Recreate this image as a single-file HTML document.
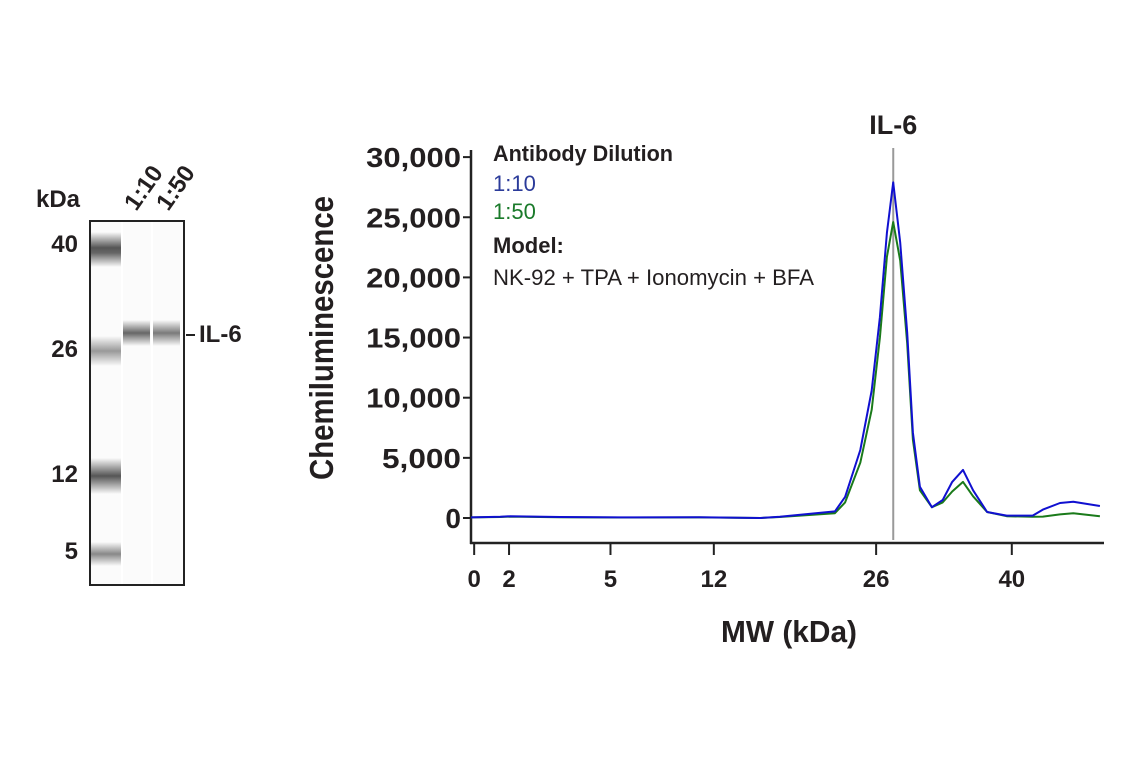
<!DOCTYPE html>
<html><head><meta charset="utf-8"><style>
body{margin:0;background:#fff;width:1141px;height:768px;overflow:hidden;font-family:"Liberation Sans Narrow","Liberation Sans",sans-serif;}
.b{position:absolute;font-weight:bold;color:#231f20}
.band{position:absolute;}
</style></head><body>
<div style="position:absolute;left:0;top:0;width:260px;height:768px">
<div class="b" style="left:36px;top:186px;font-size:24px">kDa</div>
<div class="b" style="left:142px;top:188px;font-size:24px;transform:rotate(-55deg);transform-origin:left bottom">1:10</div>
<div class="b" style="left:174px;top:188px;font-size:24px;transform:rotate(-55deg);transform-origin:left bottom">1:50</div>
<div class="b" style="left:40px;width:38px;text-align:right;top:231px;font-size:24px">40</div>
<div class="b" style="left:40px;width:38px;text-align:right;top:336px;font-size:24px">26</div>
<div class="b" style="left:40px;width:38px;text-align:right;top:461px;font-size:24px">12</div>
<div class="b" style="left:40px;width:38px;text-align:right;top:538px;font-size:24px">5</div>
<div style="position:absolute;left:89px;top:220px;width:92px;height:362px;border:2px solid #222;background:#fbfbfb;overflow:hidden">
<div class="band" style="left:0;top:10px;width:30px;height:35px;background:linear-gradient(#fbfbfb,#555 45%,#666 60%,#fbfbfb)"></div>
<div class="band" style="left:0;top:114px;width:30px;height:30px;background:linear-gradient(#fbfbfb,#999 50%,#fbfbfb)"></div>
<div class="band" style="left:0;top:236px;width:30px;height:36px;background:linear-gradient(#fbfbfb,#555 50%,#fbfbfb)"></div>
<div class="band" style="left:0;top:320px;width:30px;height:24px;background:linear-gradient(#fbfbfb,#888 50%,#fbfbfb)"></div>
<div class="band" style="left:32px;top:98px;width:27px;height:26px;background:linear-gradient(#fbfbfb,#666 50%,#fbfbfb)"></div>
<div class="band" style="left:62px;top:98px;width:27px;height:26px;background:linear-gradient(#fbfbfb,#7a7a7a 50%,#fbfbfb)"></div>
<div style="position:absolute;left:30px;top:0;width:2px;height:100%;background:#fff"></div>
<div style="position:absolute;left:60px;top:0;width:2px;height:100%;background:#fff"></div>
</div>
<div style="position:absolute;left:186px;top:334px;width:9px;height:2px;background:#222"></div>
<div class="b" style="left:199px;top:321px;font-size:24px">IL-6</div>
</div>
<svg id="chart" width="1141" height="768" style="position:absolute;left:0;top:0;font-family:'Liberation Sans Narrow','Liberation Sans',sans-serif"></svg>
<script>
const yTicks=[0,5000,10000,15000,20000,25000,30000];
const yTickLabels=["0","5,000","10,000","15,000","20,000","25,000","30,000"];
const xTickPos=[0.5,6,22,38.3,63.9,85.3];
const xTickLabels=["0","2","5","12","26","40"];
const xPos=[0,4.6,6.2,14,23.5,36,45.6,48.7,57.4,59.0,61.4,63.2,64.5,65.6,66.6,67.7,68.8,69.7,70.8,72.7,74.4,75.9,77.6,79.2,81.4,84.5,88.6,90.2,92.9,95.0,99.2];
const blue=[50,100,150,80,50,60,0,100,550,1750,5650,10600,16700,23700,27900,22900,15400,7100,2600,900,1500,3000,4000,2300,500,200,200,700,1250,1350,1000];
const green=[50,80,120,60,40,50,0,80,400,1300,4600,9000,15000,21700,24600,21400,14500,6500,2300,900,1300,2200,3000,1800,500,150,100,120,300,400,150];
const peakPos=66.6;
const svg=document.getElementById('chart');const NS='http://www.w3.org/2000/svg';
const X=v=>471+v*6.34, Y=v=>518-v*0.01203;
function mk(t,a,txt){const e=document.createElementNS(NS,t);for(const k in a)e.setAttribute(k,a[k]);if(txt!=null)e.textContent=txt;svg.appendChild(e);return e;}
let e;
e=mk('line',{x1:471,y1:150,x2:471,y2:544,stroke:'#222','stroke-width':2.5});


e=mk('line',{x1:470,y1:543,x2:1104,y2:543,stroke:'#222','stroke-width':2.5});


yTicks.forEach((t,i)=>{
 e=mk('line',{x1:463,x2:471,y1:Y(t),y2:Y(t),stroke:'#222','stroke-width':2});
 
 
 const lab=yTickLabels[i];
 const a={x:461,y:Y(t)+10,'text-anchor':'end','font-size':28,'font-weight':'bold',fill:'#231f20'};
 if(lab.length>1){a.textLength=lab.length*15.8;a.lengthAdjust='spacingAndGlyphs';}
 e=mk('text',a,lab);
 
 
});
xTickPos.forEach((p,i)=>{
 e=mk('line',{x1:X(p),x2:X(p),y1:543,y2:555,stroke:'#222','stroke-width':2});
 
 
 e=mk('text',{x:X(p),y:587,'text-anchor':'middle','font-size':24,'font-weight':'bold',fill:'#231f20'},xTickLabels[i]);
 
 
});
e=mk('line',{x1:X(peakPos),x2:X(peakPos),y1:148,y2:540,stroke:'#999','stroke-width':2});


function path(vals,col,name){const d=vals.map((v,i)=>(i?'L':'M')+X(xPos[i]).toFixed(1)+','+Y(v).toFixed(1)).join('');
 e=mk('path',{d:d,fill:'none',stroke:col,'stroke-width':2,'stroke-linejoin':'round'});
 
 }
path(green,'#1a7a1a','series-1-50');
path(blue,'#1010d0','series-1-10');
e=mk('text',{x:X(peakPos),y:134,'text-anchor':'middle','font-size':27,'font-weight':'bold',fill:'#231f20'},'IL-6');


e=mk('text',{x:493,y:161,'font-size':22,'font-weight':'bold',fill:'#231f20',textLength:180,lengthAdjust:'spacingAndGlyphs'},'Antibody Dilution');


e=mk('text',{x:493,y:191,'font-size':22,fill:'#2b3b9a'},'1:10');


e=mk('text',{x:493,y:219,'font-size':22,fill:'#1a7a2a'},'1:50');


e=mk('text',{x:493,y:253,'font-size':22,'font-weight':'bold',fill:'#231f20'},'Model:');


e=mk('text',{x:493,y:285,'font-size':22,fill:'#231f20',textLength:321,lengthAdjust:'spacingAndGlyphs'},'NK-92 + TPA + Ionomycin + BFA');


e=mk('text',{x:789,y:642,'text-anchor':'middle','font-size':31,'font-weight':'bold',fill:'#231f20',textLength:136,lengthAdjust:'spacingAndGlyphs'},'MW (kDa)');


e=mk('text',{x:0,y:0,'text-anchor':'middle','font-size':33,'font-weight':'bold',fill:'#231f20',transform:'translate(333,338) rotate(-90)',textLength:284,lengthAdjust:'spacingAndGlyphs'},'Chemiluminescence');


</script>
</body></html>
